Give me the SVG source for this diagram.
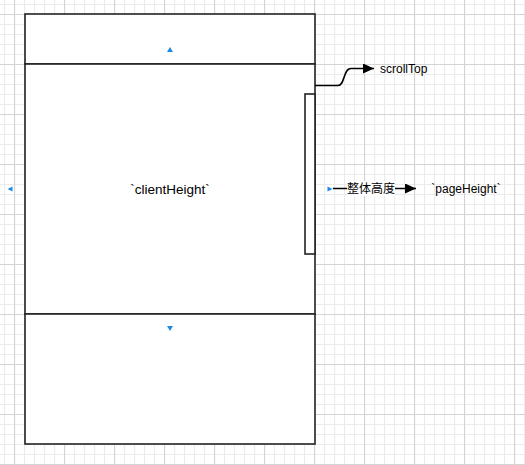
<svg xmlns="http://www.w3.org/2000/svg" width="525" height="465" viewBox="0 0 525 465">
<style>
.box{fill:#ffffff;stroke:#222222;stroke-width:1.6}
.lbl{font-family:"Liberation Sans","Noto Sans CJK SC",sans-serif;font-size:12px;fill:#000000}
.edge{fill:none;stroke:#000000;stroke-width:1.6}
.hover{fill:#1e8ae6}
</style>
<defs>
<pattern id="minor" patternUnits="userSpaceOnUse" x="4" y="4" width="10" height="10">
<path d="M0.5 0 V10 M0 0.5 H10" stroke="#ebebeb" stroke-width="1.2" fill="none"/>
</pattern>
<pattern id="major" patternUnits="userSpaceOnUse" x="14" y="14" width="50" height="50">
<path d="M0.5 0 V50 M0 0.5 H50" stroke="#d4d4d4" stroke-width="1.2" fill="none"/>
</pattern>
<marker id="arr" markerUnits="userSpaceOnUse" markerWidth="12" markerHeight="10" refX="11" refY="5" orient="auto">
<path d="M0,0 L11,5 L0,10 Z" fill="#000000"/>
</marker>
</defs>
<rect width="525" height="465" fill="#ffffff"/>
<rect width="525" height="465" fill="url(#minor)"/>
<rect width="525" height="465" fill="url(#major)"/>

<g id="top-area">
<rect class="box" x="25" y="14" width="290" height="50"/>
</g>
<g id="client-area">
<rect class="box" x="25" y="64" width="290" height="250"/>
<text class="lbl" x="170" y="193.5" text-anchor="middle" font-size="13.5" style="font-size:13.5px">`clientHeight`</text>
</g>
<g id="bottom-area">
<rect class="box" x="25" y="314" width="290" height="130"/>
</g>
<g id="scrollbar">
<rect class="box" x="305" y="94" width="10" height="160"/>
</g>
<g id="scrollTop">
<text class="lbl" x="380" y="72.5">scrollTop</text>
</g>
<g id="pageHeight">
<text class="lbl" x="466" y="193" text-anchor="middle">`pageHeight`</text>
</g>
<g id="hover-arrows">
<path class="hover" d="M167,52 L170,47 L173,52 Z"/>
<path class="hover" d="M167,326 L170,331 L173,326 Z"/>
<path class="hover" d="M12.5,186.5 L7.5,189 L12.5,191.5 Z"/>
<path class="hover" d="M327.5,186.5 L332.5,189 L327.5,191.5 Z"/>
</g>
<g id="connectors">
<path class="edge" d="M315,85.5 L338,85.5 C345,85.5 343,68.5 351,68.5 L374,68.5" marker-end="url(#arr)"/>
<path class="edge" d="M333,188.5 L416,188.5" marker-end="url(#arr)"/>
<rect x="347" y="181" width="48" height="15" fill="#ffffff"/>
<text class="lbl" x="371" y="193" text-anchor="middle">整体高度</text>
</g>
</svg>
